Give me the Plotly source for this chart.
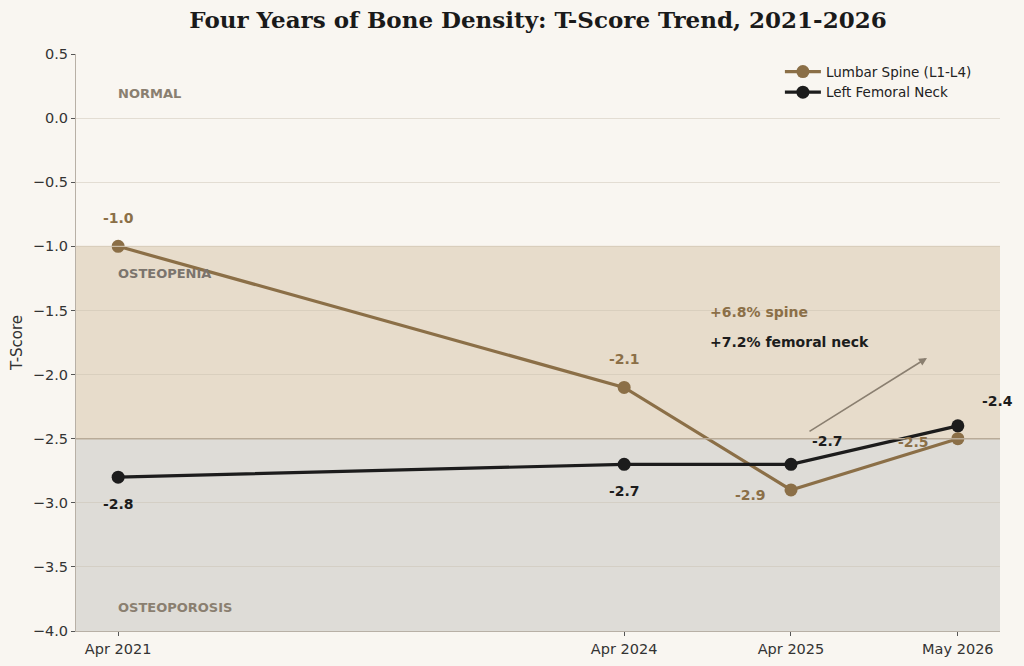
import plotly.graph_objects as go

dates = ["2021-04-05", "2024-04-25", "2025-04-28", "2026-05-01"]
tick_labels = ["Apr 2021", "Apr 2024", "Apr 2025", "May 2026"]
spine = [-1.0, -2.1, -2.9, -2.5]
femoral = [-2.8, -2.7, -2.7, -2.4]
spine_name = "Lumbar Spine (L1-L4)"
femoral_name = "Left Femoral Neck"

BROWN = "#8b6f47"
BLACK = "#1c1c1c"
BG = "#f9f6f1"
ZONE_TXT = "#8a7f70"

fig = go.Figure()
fig.add_trace(go.Scatter(x=dates, y=spine, mode="lines+markers", name=spine_name,
                         line=dict(color=BROWN, width=3.2), marker=dict(size=13, color=BROWN)))
fig.add_trace(go.Scatter(x=dates, y=femoral, mode="lines+markers", name=femoral_name,
                         line=dict(color=BLACK, width=3.2), marker=dict(size=13, color=BLACK)))

# zone bands
fig.add_shape(type="rect", xref="paper", yref="y", x0=0, x1=1, y0=-2.5, y1=-1.0,
              fillcolor="#e7dccb", line_width=0, layer="below")
fig.add_shape(type="rect", xref="paper", yref="y", x0=0, x1=1, y0=-4.0, y1=-2.5,
              fillcolor="#dedcd7", line_width=0, layer="below")
fig.add_shape(type="line", xref="paper", yref="y", x0=0, x1=1, y0=-1.0, y1=-1.0,
              line=dict(color="#d9cdbb", width=1))
fig.add_shape(type="line", xref="paper", yref="y", x0=0, x1=1, y0=-2.5, y1=-2.5,
              line=dict(color="#b9ab98", width=1.5))

font_fam = "DejaVu Sans"
zones = [("NORMAL", 0.195, ZONE_TXT), ("OSTEOPENIA", -1.21, "#7b746d"), ("OSTEOPOROSIS", -3.815, ZONE_TXT)]
for txt, yv, col in zones:
    fig.add_annotation(x=dates[0], y=yv, text="<b>" + txt + "</b>", showarrow=False, xshift=-2,
                       xanchor="left", yanchor="middle", font=dict(family=font_fam, size=13, color=col))

# value labels: (series values, index, dx, dy, color)
offsets_spine = [(0, -28), (0, -28), (-40, 5), (-44, 3)]
offsets_fem = [(0, 27), (0, 27), (37, -23), (40, -25)]
for vals, offs, col in [(spine, offsets_spine, BROWN), (femoral, offsets_fem, BLACK)]:
    for i, v in enumerate(vals):
        fig.add_annotation(x=dates[i], y=v, text="<b>%.1f</b>" % v, showarrow=False,
                           xshift=offs[i][0], yshift=-offs[i][1],
                           font=dict(family=font_fam, size=14, color=col))

# improvement callouts
fig.add_annotation(xref="x domain", yref="y", x=(708 - 76) / 924, y=-1.515, text="<b>+6.8% spine</b>",
                   showarrow=False, xanchor="left", font=dict(family=font_fam, size=14, color=BROWN))
fig.add_annotation(xref="x domain", yref="y", x=(708 - 76) / 924, y=-1.745, text="<b>+7.2% femoral neck</b>",
                   showarrow=False, xanchor="left", font=dict(family=font_fam, size=14, color=BLACK))
fig.add_annotation(xref="x domain", yref="y", x=(927 - 76) / 924, y=-1.87,
                   ax=(808 - 76) / 924, ay=-2.45, axref="x domain", ayref="y",
                   text="", showarrow=True, arrowhead=2, arrowsize=1, arrowwidth=1.6,
                   arrowcolor="#8a7f70")

fig.update_layout(
    width=1024, height=666,
    margin=dict(l=76, r=24, t=54, b=35),
    paper_bgcolor=BG, plot_bgcolor=BG,
    title=dict(text="<b>Four Years of Bone Density: T-Score Trend, 2021-2026</b>",
               xref="paper", x=0.5, xanchor="center", y=0.97, yanchor="middle",
               font=dict(family="DejaVu Serif", size=23, color="#1a1a1a")),
    font=dict(family=font_fam, size=14, color="#333333"),
    showlegend=True,
    legend=dict(x=0.975, y=0.996, xanchor="right", yanchor="top", bgcolor="rgba(0,0,0,0)",
                font=dict(family=font_fam, size=13.5, color="#222222"), tracegroupgap=0,
                itemwidth=36),
)
fig.update_xaxes(type="date", range=["2021-01-02", "2026-08-02"],
                 tickvals=dates, ticktext=tick_labels, showgrid=False,
                 showline=True, linecolor="#b8b0a6", linewidth=1.2,
                 ticks="outside", ticklen=4, tickcolor="#555555", zeroline=False,
                 tickfont=dict(size=14.5), automargin=False)
fig.update_yaxes(range=[-4.0, 0.5], dtick=0.5, tickformat=".1f", showgrid=True,
                 gridcolor="rgba(200,190,175,0.45)", gridwidth=1,
                 showline=True, linecolor="#b8b0a6", linewidth=1.2,
                 ticks="outside", ticklen=4, tickcolor="#555555", zeroline=False,
                 tickfont=dict(size=14.5), automargin=False,
                 title=dict(text="T-Score", font=dict(family=font_fam, size=15, color="#333333"), standoff=6))

fig.write_html("out.html")
